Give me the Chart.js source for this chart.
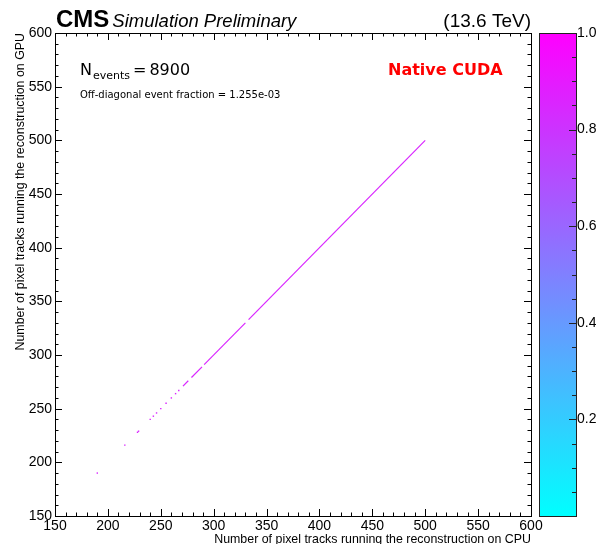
<!DOCTYPE html>
<html>
<head>
<meta charset="utf-8">
<script src="https://cdn.jsdelivr.net/npm/chart.js@4/dist/chart.umd.min.js"></script>
<style>
  body { margin: 0; background: #fff; }
  #wrap { width: 596px; height: 544px; }
</style>
</head>
<body>
<div id="wrap"><canvas id="h2"></canvas></div>
<script>
// Pistes pixel CPU vs GPU : cases isolées (x = CPU, y = GPU) et tronçons continus sur la diagonale
var cpuSingle = [190, 216, 228, 229, 240, 243, 246, 250, 255, 260, 264, 267];
var gpuSingle = [190, 216, 228, 229, 240, 243, 246, 250, 255, 260, 264, 267];
var runCpuStart = [271, 279, 291, 333];
var runCpuEnd = [276, 289, 330, 500];
var runGpuStart = [271, 279, 291, 333];
var runGpuEnd = [276, 289, 330, 500];
var binValue = 0.85; // contenu normalisé des cases
var zTicks = [0.2, 0.4, 0.6, 0.8, 1.0];

// palette "cool" : cyan -> magenta
function cool(v) {
  return 'rgb(' + Math.round(255 * v) + ',' + Math.round(255 * (1 - v)) + ',255)';
}

var datasets = [];
datasets.push({
  data: cpuSingle.map(function (x, i) { return { x: x, y: gpuSingle[i] }; }),
  pointStyle: 'rect',
  pointRadius: 1,
  backgroundColor: cool(binValue),
  borderWidth: 0,
  showLine: false
});
for (var i = 0; i < runCpuStart.length; i++) {
  datasets.push({
    data: [{ x: runCpuStart[i], y: runGpuStart[i] }, { x: runCpuEnd[i], y: runGpuEnd[i] }],
    showLine: true,
    borderColor: cool(binValue),
    borderWidth: 1.2,
    pointRadius: 0
  });
}

var frame = {
  id: 'frame',
  afterDraw: function (chart) {
    var c = chart.ctx, a = chart.chartArea, sx = chart.scales.x, sy = chart.scales.y, sz = chart.scales.z;
    c.save();
    c.strokeStyle = '#000';
    c.lineWidth = 1;
    // graduations vers l'intérieur sur les 4 côtés
    for (var v = 150; v <= 600; v += 10) {
      var len = (v % 50 === 0) ? 7 : 3.5;
      var px = Math.round(sx.getPixelForValue(v)) + 0.5;
      var py = Math.round(sy.getPixelForValue(v)) + 0.5;
      c.beginPath();
      c.moveTo(px, a.bottom); c.lineTo(px, a.bottom - len);
      c.moveTo(px, a.top); c.lineTo(px, a.top + len);
      c.moveTo(a.left, py); c.lineTo(a.left + len, py);
      c.moveTo(a.right, py); c.lineTo(a.right - len, py);
      c.stroke();
    }
    c.strokeRect(a.left + 0.5, a.top + 0.5, a.right - a.left, a.bottom - a.top);

    // barre de couleur
    var bx0 = a.right + 8, bx1 = a.right + 45;
    var top = sz.getPixelForValue(1), bot = sz.getPixelForValue(0);
    var g = c.createLinearGradient(0, bot, 0, top);
    g.addColorStop(0, cool(0));
    g.addColorStop(0.5, cool(0.5));
    g.addColorStop(1, cool(1));
    c.fillStyle = g;
    c.fillRect(bx0, top, bx1 - bx0, bot - top);
    c.strokeStyle = '#222';
    c.strokeRect(bx0 + 0.5, top + 0.5, bx1 - bx0, bot - top);
    for (var k = 1; k < 20; k++) {
      var z = k / 20;
      var zy = Math.round(sz.getPixelForValue(z)) + 0.5;
      c.beginPath();
      c.moveTo(bx1 - (k % 4 === 0 ? 7 : 4), zy); c.lineTo(bx1, zy);
      c.stroke();
    }

    // textes
    c.fillStyle = '#000';
    c.textBaseline = 'alphabetic';
    c.font = 'bold 24px "Liberation Sans", Arial, sans-serif';
    c.fillText('CMS', 56, 27);
    var w = c.measureText('CMS').width;
    c.font = 'italic 18.5px "Liberation Sans", Arial, sans-serif';
    c.fillText('Simulation Preliminary', 56 + w + 3, 27);
    c.font = '19px "Liberation Sans", Arial, sans-serif';
    c.textAlign = 'right';
    c.fillText('(13.6 TeV)', a.right, 27);
    c.textAlign = 'left';

    c.font = '16px "DejaVu Sans", sans-serif';
    c.fillText('N', 80, 75);
    var xx = 80 + c.measureText('N').width + 1;
    c.font = '11px "DejaVu Sans", sans-serif';
    c.fillText('events', xx, 79);
    xx += c.measureText('events').width + 3;
    c.font = '16px "DejaVu Sans", sans-serif';
    c.fillText('=', xx, 75);
    xx += c.measureText('=').width + 3;
    c.fillText('8900', xx, 75);

    c.font = '10px "DejaVu Sans", sans-serif';
    c.fillText('Off-diagonal event fraction = 1.255e-03', 80, 98);

    c.fillStyle = '#f00';
    c.font = 'bold 16px "DejaVu Sans", sans-serif';
    c.fillText('Native CUDA', 388, 75);
    c.restore();
  }
};

var tickFont = { family: '"Liberation Sans", Arial, sans-serif', size: 14 };
var titleFont = { family: '"Liberation Sans", Arial, sans-serif', size: 12.4 };

new Chart(document.getElementById('h2'), {
  type: 'scatter',
  data: { datasets: datasets },
  options: {
    responsive: true,
    maintainAspectRatio: false,
    animation: false,
    layout: { padding: { top: 33, left: 0, right: 0, bottom: 0 } },
    plugins: { legend: { display: false }, tooltip: { enabled: false } },
    scales: {
      x: {
        type: 'linear', min: 150, max: 600,
        ticks: { stepSize: 50, font: tickFont, color: '#000', padding: 2, maxRotation: 0 },
        grid: { drawOnChartArea: false, drawTicks: false },
        border: { display: false },
        title: { display: true, text: 'Number of pixel tracks running the reconstruction on CPU', align: 'end', font: titleFont, color: '#000', padding: { top: 0, bottom: -3 } },
        afterFit: function (s) { s.height = 28; s.paddingLeft = 0; s.paddingRight = 0; }
      },
      y: {
        type: 'linear', min: 150, max: 600,
        ticks: { stepSize: 50, font: tickFont, color: '#000', padding: 3 },
        grid: { drawOnChartArea: false, drawTicks: false },
        border: { display: false },
        title: { display: true, text: 'Number of pixel tracks running the reconstruction on GPU', align: 'end', font: titleFont, color: '#000', padding: { top: 13, bottom: 0 } },
        afterFit: function (s) { s.width = 55; s.paddingTop = 0; s.paddingBottom = 0; }
      },
      z: {
        type: 'linear', position: 'right', min: 0, max: 1,
        afterBuildTicks: function (s) { s.ticks = zTicks.map(function (v) { return { value: v }; }); },
        ticks: { font: tickFont, color: '#000', padding: 46, callback: function (v) { return v.toFixed(1); } },
        grid: { drawOnChartArea: false, drawTicks: false },
        border: { display: false },
        afterFit: function (s) { s.width = 65; s.paddingTop = 0; s.paddingBottom = 0; }
      }
    }
  },
  plugins: [frame]
});
</script>
</body>
</html>
